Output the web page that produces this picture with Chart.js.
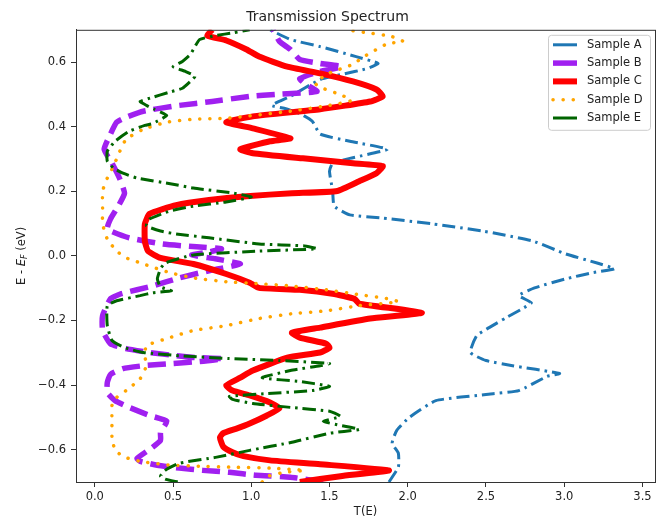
<!DOCTYPE html>
<html>
<head>
<meta charset="utf-8">
<script src="https://cdn.jsdelivr.net/npm/chart.js@4.4.0/dist/chart.umd.min.js"></script>
<style>
  html, body { margin: 0; padding: 0; background: #fff; }
</style>
</head>
<body>
<canvas id="spectrum-chart" width="662" height="522"></canvas>
<script>
// values, listed bottom to top (energy in eV, transmission)
const energyA = [-0.700, -0.654, -0.611, -0.580, -0.540, -0.500, -0.448, -0.429, -0.417, -0.373, -0.364, -0.340, -0.324, -0.299, -0.247, -0.222, -0.191, -0.164, -0.145, -0.123, -0.099, -0.071, -0.052, -0.040, -0.022, 0.006, 0.046, 0.077, 0.099, 0.117, 0.127, 0.154, 0.201, 0.262, 0.287, 0.302, 0.330, 0.355, 0.377, 0.417, 0.441, 0.457, 0.466, 0.494, 0.546, 0.562, 0.580, 0.596, 0.617, 0.648, 0.670, 0.700];
const transA = [1.88, 1.94, 1.94, 1.90, 1.93, 2.01, 2.18, 2.50, 2.71, 2.89, 2.97, 2.67, 2.50, 2.40, 2.44, 2.52, 2.63, 2.73, 2.79, 2.71, 2.81, 3.01, 3.18, 3.32, 3.21, 3.01, 2.80, 2.48, 2.16, 1.84, 1.63, 1.53, 1.52, 1.50, 1.52, 1.63, 1.87, 1.63, 1.44, 1.39, 1.31, 1.21, 1.13, 1.25, 1.44, 1.58, 1.74, 1.81, 1.67, 1.44, 1.25, 1.12];

const energyB = [-0.700, -0.685, -0.679, -0.670, -0.664, -0.657, -0.648, -0.636, -0.627, -0.596, -0.571, -0.546, -0.512, -0.494, -0.469, -0.448, -0.423, -0.392, -0.367, -0.349, -0.340, -0.333, -0.327, -0.318, -0.315, -0.309, -0.299, -0.287, -0.272, -0.231, -0.185, -0.133, -0.117, -0.093, -0.068, -0.046, -0.025, -0.009, 0.003, 0.012, 0.022, 0.028, 0.037, 0.056, 0.083, 0.114, 0.154, 0.194, 0.238, 0.287, 0.330, 0.377, 0.414, 0.429, 0.448, 0.466, 0.478, 0.494, 0.500, 0.509, 0.534, 0.549, 0.571, 0.586, 0.596, 0.608, 0.639, 0.664, 0.700];
const transB = [1.46, 1.25, 1.03, 0.86, 0.69, 0.54, 0.40, 0.29, 0.27, 0.36, 0.42, 0.42, 0.46, 0.35, 0.22, 0.13, 0.08, 0.08, 0.10, 0.18, 0.31, 0.50, 0.67, 0.82, 0.65, 0.52, 0.35, 0.20, 0.10, 0.05, 0.05, 0.10, 0.17, 0.37, 0.54, 0.73, 0.93, 0.77, 0.62, 0.73, 0.81, 0.65, 0.43, 0.22, 0.08, 0.10, 0.15, 0.19, 0.16, 0.11, 0.06, 0.10, 0.14, 0.20, 0.31, 0.54, 0.75, 0.99, 1.16, 1.42, 1.34, 1.31, 1.44, 1.58, 1.44, 1.31, 1.25, 1.18, 1.14];

const energyC = [-0.700, -0.682, -0.664, -0.645, -0.633, -0.620, -0.608, -0.590, -0.562, -0.549, -0.534, -0.519, -0.494, -0.472, -0.454, -0.432, -0.417, -0.401, -0.377, -0.355, -0.315, -0.299, -0.284, -0.272, -0.253, -0.238, -0.222, -0.194, -0.176, -0.148, -0.133, -0.117, -0.105, -0.099, -0.083, -0.056, -0.025, -0.006, 0.015, 0.046, 0.099, 0.130, 0.157, 0.173, 0.185, 0.194, 0.201, 0.231, 0.256, 0.278, 0.287, 0.302, 0.318, 0.330, 0.355, 0.364, 0.395, 0.414, 0.432, 0.454, 0.478, 0.494, 0.515, 0.540, 0.565, 0.586, 0.617, 0.639, 0.667, 0.682, 0.700];
const transC = [1.31, 1.57, 1.88, 1.44, 1.12, 0.95, 0.88, 0.82, 0.80, 0.82, 0.91, 0.99, 1.10, 1.18, 1.12, 0.99, 0.88, 0.84, 0.93, 1.01, 1.23, 1.44, 1.50, 1.48, 1.31, 1.26, 1.44, 1.76, 2.09, 1.69, 1.66, 1.52, 1.31, 1.05, 0.99, 0.84, 0.63, 0.42, 0.34, 0.32, 0.32, 0.35, 0.52, 0.73, 0.97, 1.26, 1.55, 1.69, 1.80, 1.84, 1.65, 1.33, 1.01, 0.93, 1.12, 1.25, 1.01, 0.84, 1.01, 1.44, 1.76, 1.84, 1.80, 1.65, 1.44, 1.23, 1.05, 0.97, 0.84, 0.72, 0.75];

const energyD = [-0.700, -0.682, -0.670, -0.664, -0.657, -0.654, -0.651, -0.648, -0.636, -0.623, -0.602, -0.562, -0.509, -0.463, -0.438, -0.417, -0.380, -0.340, -0.309, -0.278, -0.253, -0.231, -0.216, -0.194, -0.179, -0.170, -0.154, -0.142, -0.133, -0.120, -0.105, -0.093, -0.086, -0.080, -0.068, -0.052, -0.028, -0.006, 0.015, 0.052, 0.099, 0.148, 0.201, 0.241, 0.278, 0.324, 0.361, 0.392, 0.414, 0.423, 0.426, 0.448, 0.466, 0.481, 0.497, 0.522, 0.534, 0.562, 0.593, 0.614, 0.657, 0.664, 0.679, 0.691, 0.700];
const transD = [1.07, 1.11, 1.21, 1.34, 1.12, 0.86, 0.67, 0.48, 0.29, 0.19, 0.13, 0.11, 0.11, 0.11, 0.14, 0.20, 0.29, 0.33, 0.32, 0.33, 0.48, 0.63, 0.84, 1.05, 1.26, 1.48, 1.69, 1.94, 1.88, 1.69, 1.48, 1.25, 1.05, 0.84, 0.63, 0.48, 0.33, 0.20, 0.14, 0.08, 0.05, 0.05, 0.05, 0.08, 0.12, 0.16, 0.20, 0.31, 0.46, 0.63, 0.84, 1.25, 1.50, 1.64, 1.58, 1.44, 1.41, 1.48, 1.65, 1.71, 1.87, 1.97, 1.90, 1.74, 1.60];

const energyE = [-0.700, -0.691, -0.682, -0.664, -0.642, -0.623, -0.602, -0.577, -0.549, -0.537, -0.525, -0.512, -0.497, -0.481, -0.469, -0.457, -0.444, -0.435, -0.426, -0.417, -0.404, -0.389, -0.377, -0.355, -0.340, -0.333, -0.324, -0.318, -0.309, -0.299, -0.284, -0.262, -0.216, -0.154, -0.139, -0.123, -0.114, -0.108, -0.096, -0.071, -0.040, -0.022, 0.003, 0.015, 0.022, 0.031, 0.037, 0.056, 0.068, 0.077, 0.093, 0.114, 0.139, 0.154, 0.167, 0.182, 0.194, 0.210, 0.222, 0.241, 0.256, 0.272, 0.293, 0.324, 0.355, 0.386, 0.404, 0.410, 0.435, 0.454, 0.466, 0.478, 0.491, 0.506, 0.519, 0.540, 0.556, 0.571, 0.586, 0.602, 0.623, 0.648, 0.670, 0.682, 0.691, 0.700];
const transE = [0.53, 0.45, 0.42, 0.45, 0.54, 0.78, 0.99, 1.26, 1.50, 1.69, 1.57, 1.46, 1.57, 1.50, 1.25, 1.01, 0.88, 0.86, 1.10, 1.39, 1.50, 1.31, 1.07, 1.25, 1.44, 1.50, 1.18, 0.86, 0.54, 0.31, 0.19, 0.11, 0.08, 0.08, 0.14, 0.29, 0.37, 0.49, 0.42, 0.40, 0.42, 0.45, 0.63, 1.05, 1.42, 1.34, 1.05, 0.73, 0.52, 0.42, 0.33, 0.35, 0.48, 0.63, 0.84, 1.00, 0.89, 0.63, 0.50, 0.27, 0.18, 0.12, 0.08, 0.08, 0.13, 0.22, 0.32, 0.37, 0.46, 0.38, 0.33, 0.29, 0.37, 0.47, 0.56, 0.61, 0.64, 0.58, 0.50, 0.56, 0.61, 0.64, 0.67, 0.77, 0.89, 0.99];

const sampleNames = ['Sample A', 'Sample B', 'Sample C', 'Sample D', 'Sample E'];
const xTicks = [0, 0.5, 1, 1.5, 2, 2.5, 3, 3.5];
const yTicks = [-0.6, -0.4, -0.2, 0, 0.2, 0.4, 0.6];

const FONT = '"DejaVu Sans", "Liberation Sans", sans-serif';
const TEXT_COLOR = '#222';
const AXIS_COLOR = '#333';

function toPoints(energies, trans) {
  return energies.map((e, i) => ({ x: trans[i], y: e }));
}

function tickLabel(v) {
  // matplotlib style minus sign
  return (v < 0 ? '\u2212' : '') + Math.abs(v).toFixed(1);
}

// line looks, one per sample
const styles = [
  { color: '#1f77b4', width: 3, dash: [13, 5, 2.5, 5], cap: 'butt', order: 5 },
  { color: '#a020f0', width: 5.5, dash: [18, 8], cap: 'butt', order: 4 },
  { color: '#ff0000', width: 6, dash: [], cap: 'butt', order: 3 },
  { color: '#ffa500', width: 3.5, dash: [0.1, 10], cap: 'round', order: 2 },
  { color: '#006400', width: 3, dash: [13, 5, 2.5, 5], cap: 'butt', order: 1 }
];

// frame round the plot, like the four spines
const framePlugin = {
  id: 'frame',
  afterDatasetsDraw(chart) {
    const a = chart.chartArea;
    const ctx = chart.ctx;
    ctx.save();
    ctx.strokeStyle = AXIS_COLOR;
    ctx.lineWidth = 1;
    ctx.strokeRect(a.left + 0.5, a.top + 0.5, a.right - a.left, a.bottom - a.top);
    ctx.restore();
  }
};

// y title with italic subscript E_F
const yTitlePlugin = {
  id: 'yTitle',
  afterDraw(chart) {
    const a = chart.chartArea;
    const ctx = chart.ctx;
    const size = 11.5;
    const parts = [
      { text: 'E - ', font: size + 'px ' + FONT, dy: 0 },
      { text: 'E', font: 'italic ' + size + 'px ' + FONT, dy: 0 },
      { text: 'F', font: 'italic ' + (size * 0.7) + 'px ' + FONT, dy: 2.5 },
      { text: ' (eV)', font: size + 'px ' + FONT, dy: 0 }
    ];
    ctx.save();
    let total = 0;
    parts.forEach(p => {
      ctx.font = p.font;
      p.w = ctx.measureText(p.text).width;
      total += p.w;
    });
    ctx.translate(22, (a.top + a.bottom) / 2);
    ctx.rotate(-Math.PI / 2);
    ctx.fillStyle = TEXT_COLOR;
    ctx.textBaseline = 'middle';
    ctx.textAlign = 'left';
    let x = -total / 2;
    parts.forEach(p => {
      ctx.font = p.font;
      ctx.fillText(p.text, x, p.dy);
      x += p.w;
    });
    ctx.restore();
  }
};

// legend box in the upper right corner of the plot
const legendPlugin = {
  id: 'innerLegend',
  afterDraw(chart) {
    const a = chart.chartArea;
    const ctx = chart.ctx;
    const boxW = 102;
    const boxH = 95;
    const left = a.right - 5 - boxW;
    const top = a.top + 5;
    const rowH = 18.3;
    ctx.save();
    ctx.fillStyle = 'rgba(255,255,255,0.85)';
    ctx.strokeStyle = '#cccccc';
    ctx.lineWidth = 1;
    ctx.beginPath();
    ctx.roundRect(left + 0.5, top + 0.5, boxW, boxH, 3);
    ctx.fill();
    ctx.stroke();
    ctx.font = '11.5px ' + FONT;
    ctx.textBaseline = 'middle';
    sampleNames.forEach((name, i) => {
      const st = styles[i];
      const y = top + 10 + i * rowH;
      ctx.strokeStyle = st.color;
      ctx.lineWidth = st.width;
      ctx.lineCap = st.cap;
      ctx.setLineDash(i === 3 ? st.dash : []);
      ctx.beginPath();
      ctx.moveTo(left + 5, y);
      ctx.lineTo(left + 29, y);
      ctx.stroke();
      ctx.setLineDash([]);
      ctx.fillStyle = TEXT_COLOR;
      ctx.fillText(name, left + 39, y);
    });
    ctx.restore();
  }
};

function setupSpectrumChart() {
  const series = [
    toPoints(energyA, transA),
    toPoints(energyB, transB),
    toPoints(energyC, transC),
    toPoints(energyD, transD),
    toPoints(energyE, transE)
  ];

  new Chart(document.getElementById('spectrum-chart'), {
    type: 'scatter',
    data: {
      datasets: series.map((pts, i) => ({
        label: sampleNames[i],
        data: pts,
        showLine: true,
        fill: false,
        pointRadius: 0,
        borderColor: styles[i].color,
        borderWidth: styles[i].width,
        borderDash: styles[i].dash,
        borderCapStyle: styles[i].cap,
        borderJoinStyle: 'round',
        tension: 0.15,
        order: styles[i].order
      }))
    },
    options: {
      responsive: false,
      animation: false,
      devicePixelRatio: 1,
      layout: { padding: { left: 0, right: 7, top: 0, bottom: 0 } },
      scales: {
        x: {
          type: 'linear',
          min: -0.12,
          max: 3.58,
          afterBuildTicks: scale => { scale.ticks = xTicks.map(v => ({ value: v })); },
          afterFit: scale => { scale.height = 40; },
          ticks: { callback: tickLabel, color: TEXT_COLOR, font: { family: FONT, size: 11.5 }, padding: 3, maxRotation: 0 },
          grid: { drawOnChartArea: false, drawTicks: true, tickLength: 5, color: AXIS_COLOR },
          border: { color: AXIS_COLOR },
          title: { display: true, text: 'T(E)', color: TEXT_COLOR, font: { family: FONT, size: 11.5 }, padding: { top: 0, bottom: 3 } }
        },
        y: {
          type: 'linear',
          min: -0.7,
          max: 0.7,
          afterBuildTicks: scale => { scale.ticks = yTicks.map(v => ({ value: v })); },
          afterFit: scale => { scale.width = 76; },
          ticks: { callback: tickLabel, color: TEXT_COLOR, font: { family: FONT, size: 11.5 }, padding: 5 },
          grid: { drawOnChartArea: false, drawTicks: true, tickLength: 5, color: AXIS_COLOR },
          border: { color: AXIS_COLOR }
        }
      },
      plugins: {
        legend: { display: false },
        tooltip: { enabled: false },
        title: {
          display: true,
          text: 'Transmission Spectrum',
          color: TEXT_COLOR,
          font: { family: FONT, size: 14, weight: 'normal' },
          padding: { top: 9, bottom: 4 }
        }
      }
    },
    plugins: [framePlugin, yTitlePlugin, legendPlugin]
  });
}

setupSpectrumChart();
</script>
</body>
</html>
